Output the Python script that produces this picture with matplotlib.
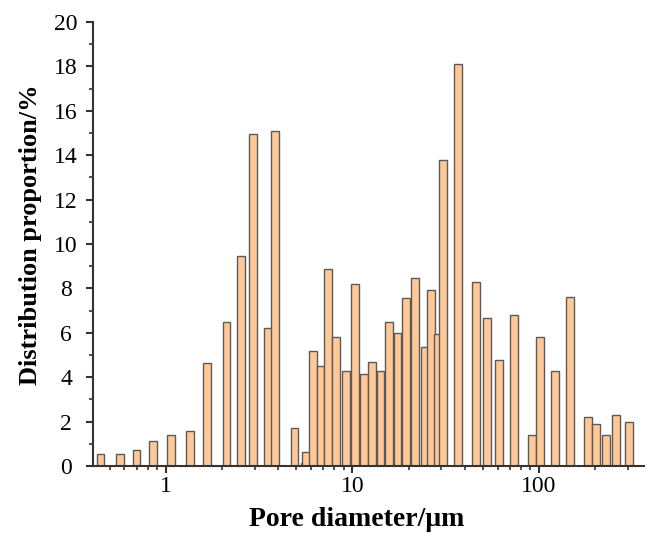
import numpy as np
import matplotlib
matplotlib.use("Agg")
import matplotlib.pyplot as plt

# pore diameter (um) and distribution proportion (%)
diameter = [0.447, 0.567, 0.697, 0.855, 1.07, 1.348, 1.669, 2.115, 2.523, 2.937,
            3.534, 3.838, 4.894, 5.55, 5.627, 6.157, 6.745, 7.409, 8.178, 9.22,
            10.30, 11.55, 12.70, 14.15, 15.67, 17.45, 19.40, 21.60, 24.52, 26.32,
            28.69, 30.63, 36.86, 46.13, 52.72, 61.27, 73.74, 91.29, 101.6, 121.2,
            146.6, 182.6, 201.5, 227.5, 258.6, 302.1]
proportion = [0.52, 0.52, 0.72, 1.11, 1.41, 1.56, 4.65, 6.5, 9.47, 14.97,
              6.2, 15.1, 1.7, 0.15, 0.63, 5.2, 4.5, 8.87, 5.8, 4.3,
              8.2, 4.15, 4.7, 4.3, 6.5, 6.0, 7.58, 8.48, 5.35, 7.93,
              5.95, 13.78, 18.1, 8.3, 6.68, 4.79, 6.82, 1.4, 5.8, 4.28,
              7.6, 2.22, 1.89, 1.41, 2.28, 1.97]

plt.rcParams['font.family'] = ['Liberation Serif', 'DejaVu Serif']

fig = plt.figure(figsize=(6.57, 5.42), dpi=100)
ax = fig.add_axes([0.1416, 0.1402, 0.8384, 0.8192])

d = np.array(diameter)
w = 0.042  # bar width in decades
left = d * 10 ** (-w / 2)
right = d * 10 ** (w / 2)
ax.bar(left, proportion, width=right - left, align='edge',
       color='#FFC896', edgecolor='#5a5a5a', linewidth=1.0)

ax.set_xscale('log')
ax.set_xlim(0.4077, 364.5)
ax.set_ylim(0, 20)
ax.set_yticks(np.arange(0, 21, 2))
ax.set_yticks(np.arange(0, 21, 1), minor=True)
ax.xaxis.set_major_formatter(matplotlib.ticker.FuncFormatter(lambda v, p: '%g' % v))

for s in ['top', 'right']:
    ax.spines[s].set_visible(False)
for s in ['left', 'bottom']:
    ax.spines[s].set_linewidth(1.5)
    ax.spines[s].set_color('#333333')

ax.tick_params(which='major', length=5, width=1.5, labelsize=17, color='#333333')
ax.tick_params(which='minor', length=3, width=1.2, color='#333333')
ax.tick_params(axis='y', pad=14.4)
ax.tick_params(axis='x', pad=2)
plt.setp(ax.yaxis.get_majorticklabels(), ha='center')

ax.set_xlabel('Pore diameter/\u03bcm', fontsize=20, fontweight='bold')
ax.set_ylabel('Distribution proportion/%', fontsize=19, fontweight='bold')
ax.xaxis.set_label_coords(0.479, -0.092)
ax.yaxis.set_label_coords(-0.092, 0.52)

fig.savefig('out.png', dpi=100)
